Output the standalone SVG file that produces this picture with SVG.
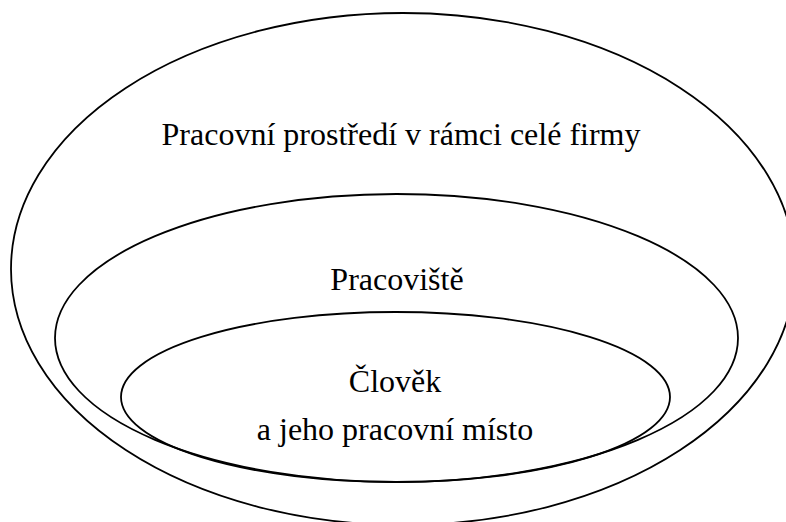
<svg xmlns="http://www.w3.org/2000/svg" width="786" height="522" viewBox="0 0 786 522">
  <style>
    .ring { fill: none; stroke: #000; stroke-width: 1.8; }
    .label { font-family: "Liberation Serif", "Times New Roman", serif; font-size: 32px; fill: #000; text-anchor: middle; }
  </style>
  <rect width="786" height="522" fill="#fff"/>
  <!-- outer level: the whole company -->
  <g id="firma">
    <ellipse class="ring" cx="403" cy="269" rx="392" ry="256"/>
    <text class="label" x="401" y="145">Pracovní prostředí v rámci celé firmy</text>
  </g>
  <!-- middle level: workplace -->
  <g id="pracoviste">
    <ellipse class="ring" cx="396.5" cy="338" rx="341.5" ry="144"/>
    <text class="label" x="397" y="290">Pracoviště</text>
  </g>
  <!-- inner level: the person and their work station -->
  <g id="clovek">
    <ellipse class="ring" cx="395.5" cy="397" rx="274.5" ry="85"/>
    <text class="label" x="395" y="392">Člověk</text>
    <text class="label" x="395" y="440">a jeho pracovní místo</text>
  </g>
  <g id="connectors"/>
</svg>
